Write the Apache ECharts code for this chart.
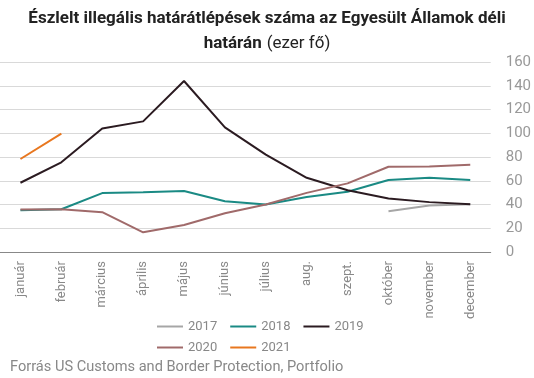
<!DOCTYPE html>
<html>
<head>
<meta charset="utf-8">
<script src="https://cdn.jsdelivr.net/npm/echarts@6/dist/echarts.min.js"></script>
<style>
html,body{margin:0;padding:0;background:#fff;}
#c{width:534px;height:378px;}
</style>
</head>
<body>
<div id="c"></div>
<script>
const categories = ['január','február','március','április','május','június','július','aug.','szept.','október','november','december'];
const s2017 = [null,null,null,null,null,null,null,null,null,34.4,39.2,40.3];
const s2018 = [35.2,36,49.6,50.4,51.3,42.8,40,46.4,50.7,60.6,62.6,60.6];
const s2019 = [58.3,75.5,104,110,144,105,82,62.5,52,45,42,40.3];
const s2020 = [35.8,36,33.5,16.6,22.8,32.7,40,49.8,57.8,71.8,72,73.5];
const s2021 = [78.3,99.7,null,null,null,null,null,null,null,null,null,null];
const yTicks = [0,20,40,60,80,100,120,140,160];

const font = 'Roboto, "Noto Sans", sans-serif';
const chart = echarts.init(document.getElementById('c'), null, {renderer:'canvas'});
function line(name, data, color){
  return {name, type:'line', data, symbol:'none', showSymbol:false,
    lineStyle:{color, width:2}, itemStyle:{color}, connectNulls:false, animation:false};
}
chart.setOption({
  animation:false,
  title:{
    text:'{b|Észlelt illegális határátlépések száma az Egyesült Államok déli}\n{b|határán} {n|(ezer fő)}',
    left:'center', top:1,
    textStyle:{
      rich:{
        b:{fontFamily:font, fontWeight:'bold', fontSize:17, color:'#222', lineHeight:25},
        n:{fontFamily:font, fontWeight:'normal', fontSize:17, color:'#222', lineHeight:25}
      }
    }
  },
  grid:{left:0, right:43, top:62, bottom:126, containLabel:false},
  xAxis:{
    type:'category', data:categories, boundaryGap:true,
    axisLine:{lineStyle:{color:'#888', width:1}},
    axisTick:{show:false},
    axisLabel:{rotate:90, color:'#888', fontFamily:font, fontSize:13, margin:9, interval:0}
  },
  yAxis:{
    type:'value', position:'right', min:yTicks[0], max:yTicks[yTicks.length-1], interval:20,
    axisLine:{show:false}, axisTick:{show:false},
    axisLabel:{color:'#999', fontFamily:font, fontSize:15, margin:15},
    splitLine:{lineStyle:{color:'#d9d9d9', width:1}}
  },
  legend:[
    {data:['2017','2018','2019'], left:152, top:315, icon:'rect', itemWidth:26, itemHeight:2, itemGap:13,
     textStyle:{color:'#888', fontFamily:font, fontSize:13}},
    {data:['2020','2021'], left:152, top:336, icon:'rect', itemWidth:26, itemHeight:2, itemGap:13,
     textStyle:{color:'#888', fontFamily:font, fontSize:13}}
  ],
  graphic:[{type:'text', left:10, top:360, style:{text:'Forrás US Customs and Border Protection, Portfolio', fill:'#888', font:'14.6px '+font}}],
  series:[
    line('2017', s2017, '#a6a6a6'),
    line('2018', s2018, '#1a8a84'),
    line('2019', s2019, '#2b1b21'),
    line('2020', s2020, '#a06a6a'),
    line('2021', s2021, '#e8771f')
  ]
});
</script>
</body>
</html>
